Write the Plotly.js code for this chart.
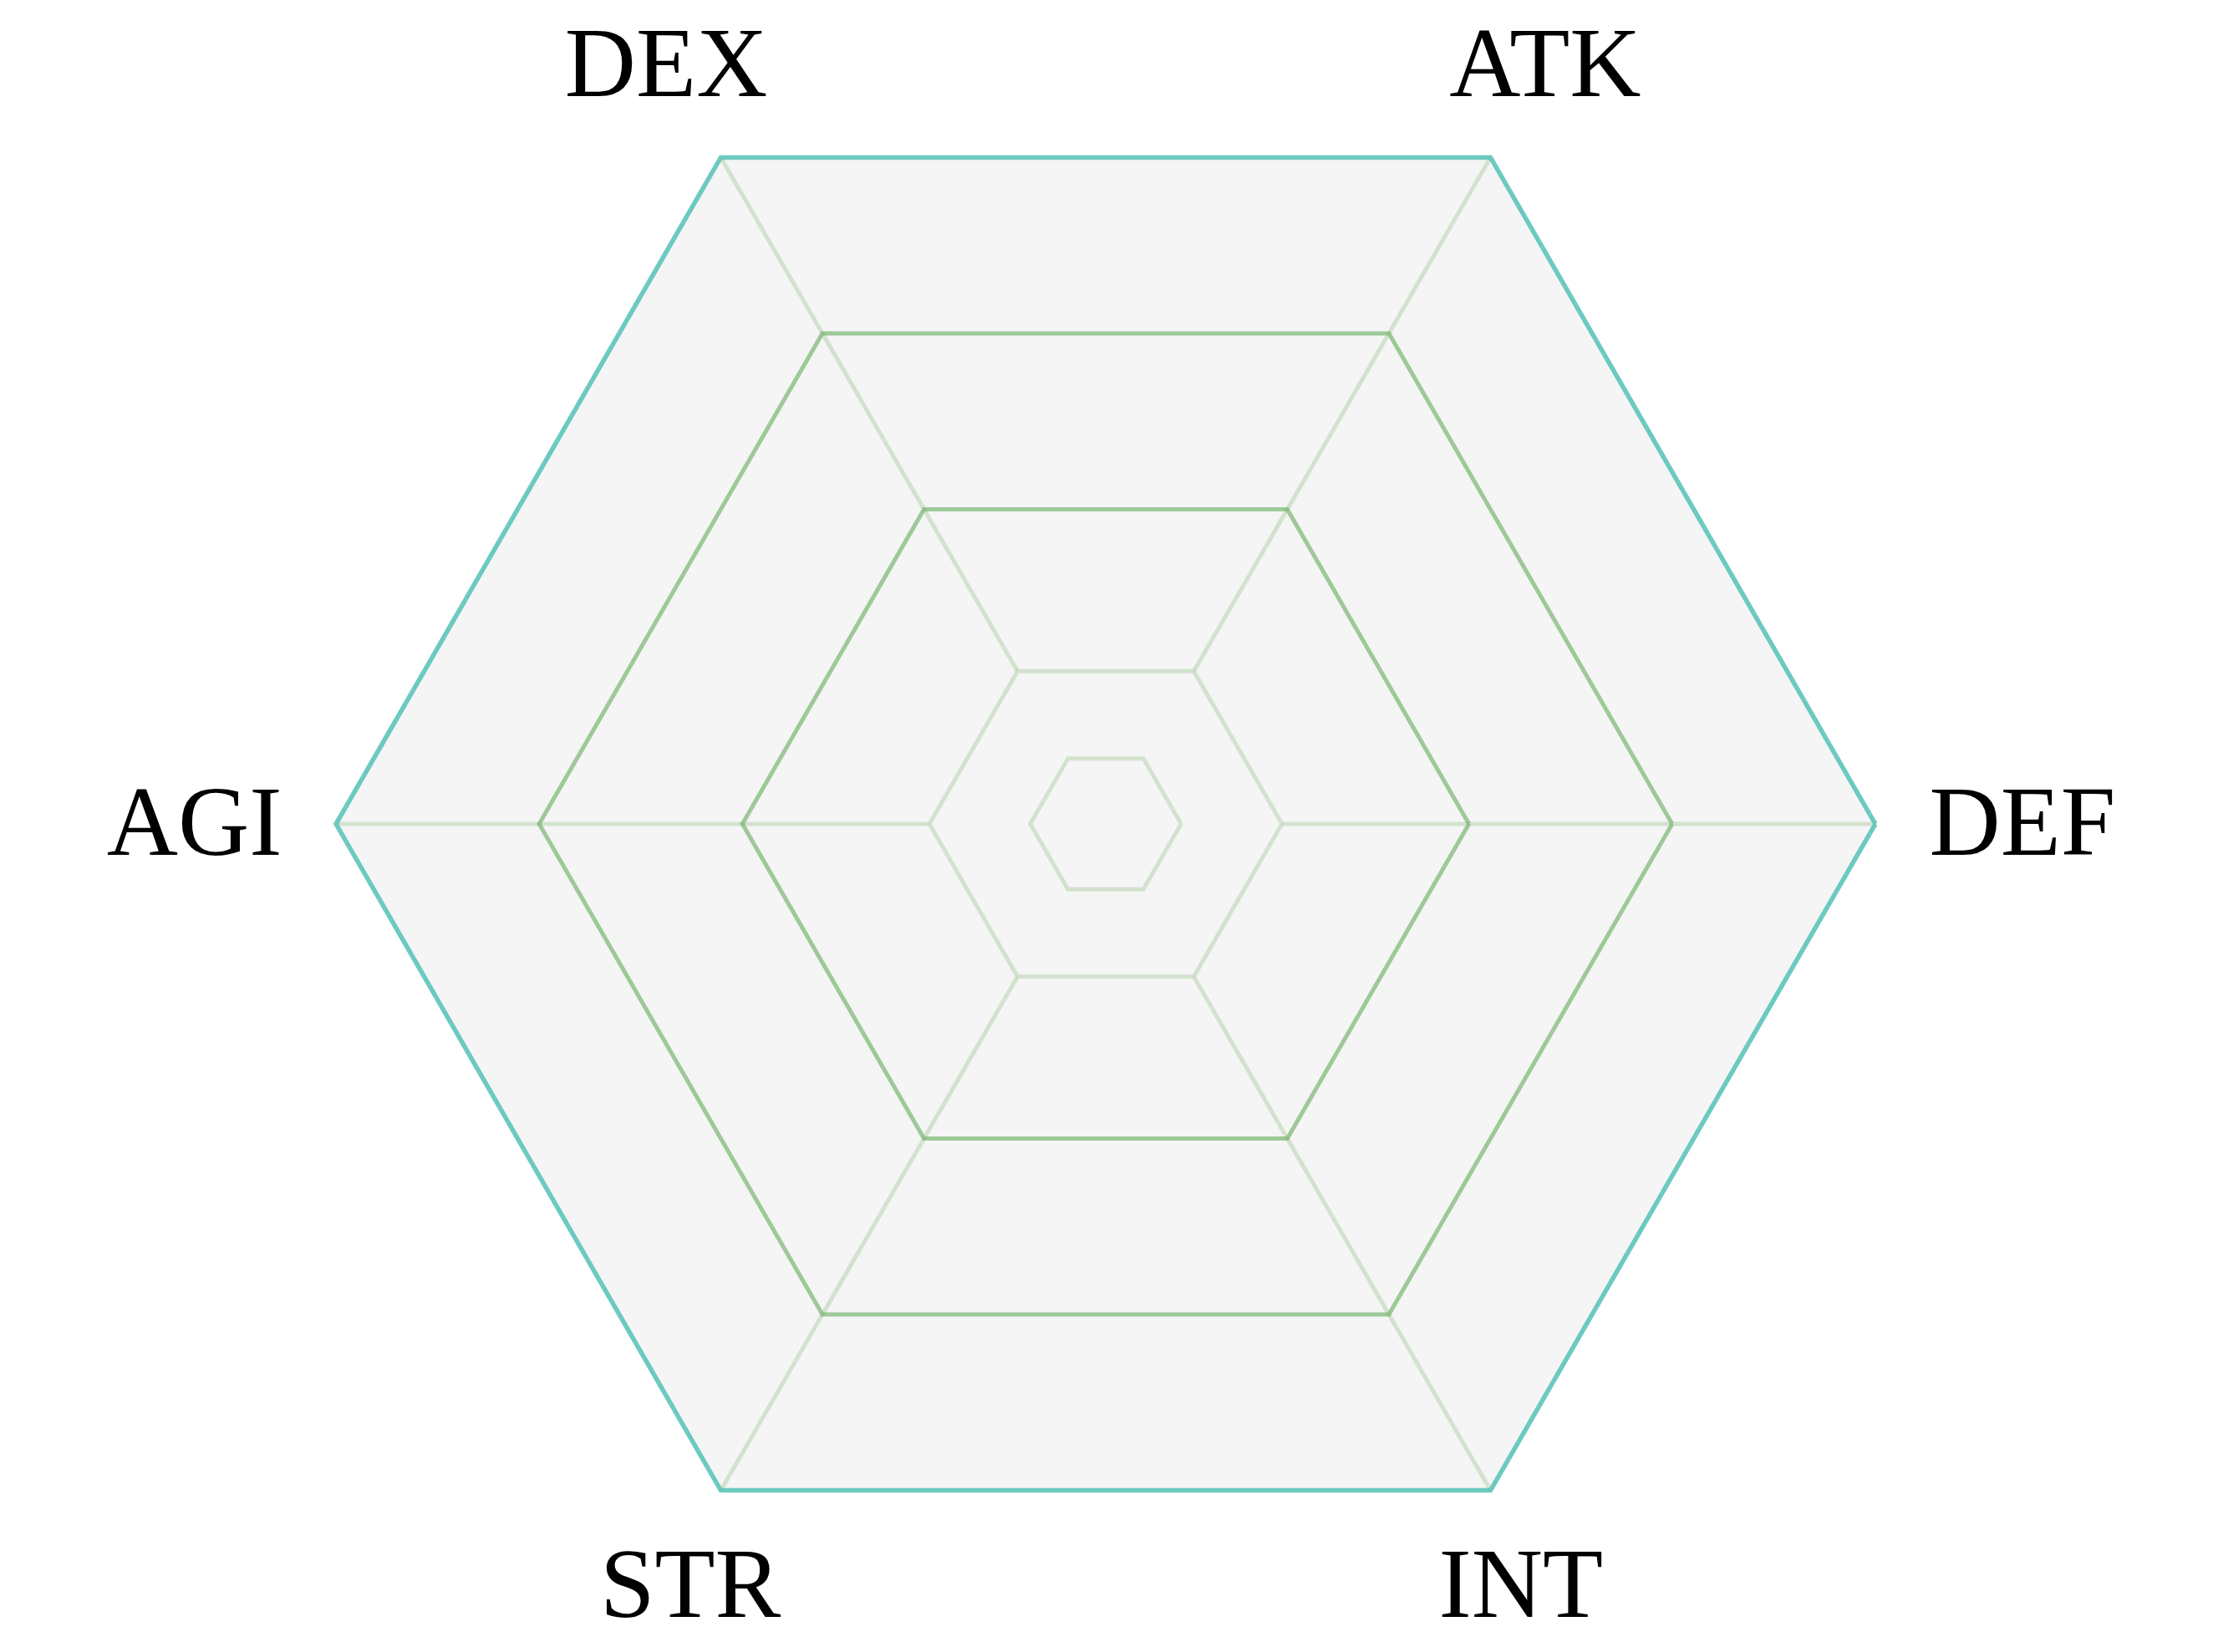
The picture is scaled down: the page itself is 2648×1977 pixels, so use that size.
<!DOCTYPE html>
<html>
<head>
<meta charset="utf-8">
<script src="https://cdn.plot.ly/plotly-3.0.1.min.js"></script>
<style>html,body{margin:0;padding:0;background:#fff;}#chart{width:2648px;height:1977px;}</style>
</head>
<body>
<div id="chart"></div>
<script>
// Axis categories (counter-clockwise from the right)
const categories = ["DEF", "ATK", "DEX", "AGI", "STR", "INT"];
// Radial scale: outer edge = 100
const radialMax = 100;
// Light grid rings
const lightRings = [9.8, 22.9];
// Darker highlighted rings
const darkRings = [47.2, 73.6];
// Spokes run from this ring outward to the edge
const spokeStart = 22.9;

// ---- layout constants ----
const W = 2648, H = 1977;
const M = {l: 100, r: 102, t: 65, b: 70};
const plotW = W - M.l - M.r, plotH = H - M.t - M.b;
const polarRadiusPx = Math.min(plotW, plotH) / 2;
// label distances, in units of the outer radius
const topLabelRho = {x: 1.142, y: 1.138};
const bottomLabelRho = {x: 1.079, y: 1.143};
const sideLabelRho = 1.07;
const labelShiftY = -7.5 / polarRadiusPx; // text-centering correction

const gridColor = "rgba(190,215,182,0.62)";
const traces = [];
// spokes
categories.forEach(c => {
  traces.push({
    type: "scatterpolar", mode: "lines",
    r: [spokeStart, radialMax], theta: [c, c],
    line: {color: gridColor, width: 5},
    hoverinfo: "skip", showlegend: false
  });
});
// dark rings
darkRings.forEach(v => {
  traces.push({
    type: "scatterpolar", mode: "lines",
    r: categories.map(() => v).concat([v]),
    theta: categories.concat([categories[0]]),
    line: {color: "rgba(105,172,95,0.62)", width: 5},
    hoverinfo: "skip", showlegend: false
  });
});

// category labels on an invisible cartesian overlay whose unit = outer radius
const labelFont = {family: "Liberation Serif", size: 118, color: "#000000"};
const lx = [], ly = [], lpos = [];
categories.forEach((c, i) => {
  const a = i * Math.PI / 3;
  const s = Math.sin(a), co = Math.cos(a);
  if (Math.abs(s) < 0.01) {
    lx.push(sideLabelRho * co);
    ly.push(labelShiftY);
    lpos.push(co > 0 ? "middle right" : "middle left");
  } else {
    const rho = s > 0 ? topLabelRho : bottomLabelRho;
    lx.push(rho.x * co);
    ly.push(rho.y * s + labelShiftY);
    lpos.push("middle center");
  }
});
traces.push({
  type: "scatter", mode: "text", xaxis: "x", yaxis: "y", cliponaxis: false,
  x: lx, y: ly, text: categories, textposition: lpos, textfont: labelFont,
  hoverinfo: "skip", showlegend: false
});

const xHalf = plotW / 2 / polarRadiusPx, yHalf = plotH / 2 / polarRadiusPx;

const layout = {
  width: W, height: H,
  paper_bgcolor: "#ffffff",
  plot_bgcolor: "rgba(0,0,0,0)",
  showlegend: false,
  margin: M,
  xaxis: {range: [-xHalf, xHalf], visible: false, fixedrange: true, domain: [0, 1]},
  yaxis: {range: [-yHalf, yHalf], visible: false, fixedrange: true, domain: [0, 1]},
  polar: {
    bgcolor: "#f5f5f5",
    gridshape: "linear",
    domain: {x: [0, 1], y: [0, 1]},
    radialaxis: {
      range: [0, radialMax],
      tickvals: lightRings,
      showticklabels: false,
      ticks: "",
      showline: false,
      gridcolor: gridColor,
      gridwidth: 5
    },
    angularaxis: {
      type: "category",
      categoryarray: categories,
      rotation: 0,
      direction: "counterclockwise",
      showgrid: false,
      showticklabels: false,
      ticks: "",
      linecolor: "rgba(85,193,182,0.85)",
      linewidth: 5.5
    }
  }
};

Plotly.newPlot("chart", traces, layout, {displayModeBar: false, staticPlot: true});
</script>
</body>
</html>
